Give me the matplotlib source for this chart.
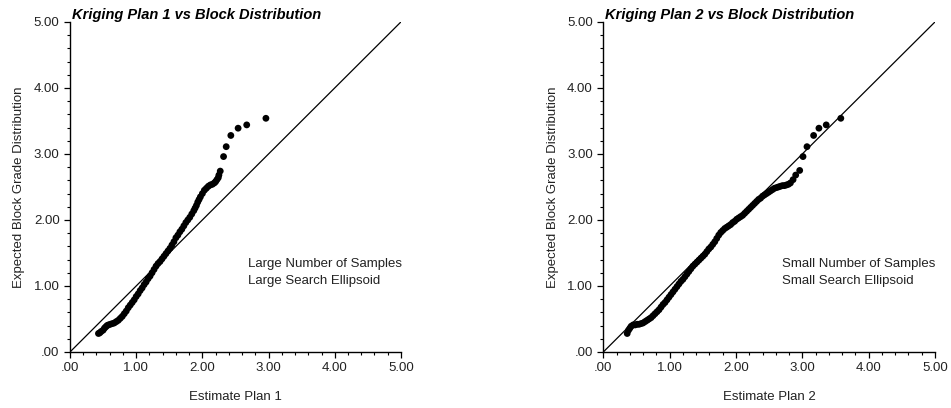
import matplotlib
matplotlib.use("Agg")
import matplotlib.pyplot as plt
from matplotlib.ticker import MultipleLocator, FuncFormatter

plt.rcParams['font.family'] = ['Liberation Sans', 'DejaVu Sans']

# Plan 1: estimate vs expected block grade (q-q points)
plan1_x = [0.43, 0.45, 0.47, 0.50, 0.52, 0.54, 0.56, 0.58, 0.61, 0.64, 0.67, 0.70,
           0.73, 0.76, 0.79, 0.82, 0.85, 0.88, 0.91, 0.94, 0.97, 1.00, 1.03, 1.06,
           1.09, 1.12, 1.15, 1.18, 1.21, 1.24, 1.27, 1.30, 1.33, 1.36, 1.39, 1.42,
           1.45, 1.48, 1.51, 1.54, 1.57, 1.60, 1.63, 1.66, 1.69, 1.72, 1.75, 1.78,
           1.81, 1.84, 1.87, 1.89, 1.91, 1.93, 1.95, 1.97, 2.00, 2.03, 2.06, 2.09,
           2.12, 2.15, 2.18, 2.20, 2.22, 2.24, 2.25, 2.27,
           2.32, 2.36, 2.43, 2.54, 2.67, 2.96]
plan1_y = [0.28, 0.29, 0.31, 0.33, 0.36, 0.38, 0.40, 0.41, 0.42, 0.43, 0.44, 0.46,
           0.48, 0.51, 0.54, 0.58, 0.62, 0.67, 0.71, 0.75, 0.79, 0.84, 0.88, 0.93,
           0.97, 1.02, 1.06, 1.11, 1.15, 1.20, 1.25, 1.30, 1.34, 1.37, 1.41, 1.45,
           1.49, 1.53, 1.57, 1.62, 1.67, 1.73, 1.77, 1.82, 1.86, 1.91, 1.96, 2.00,
           2.04, 2.09, 2.14, 2.18, 2.22, 2.27, 2.31, 2.35, 2.40, 2.45, 2.48, 2.51,
           2.53, 2.54, 2.56, 2.58, 2.61, 2.64, 2.68, 2.74,
           2.96, 3.11, 3.28, 3.39, 3.44, 3.54]

# Plan 2
plan2_x = [0.36, 0.38, 0.40, 0.42, 0.45, 0.48, 0.51, 0.54, 0.57, 0.60, 0.63, 0.66,
           0.69, 0.72, 0.75, 0.78, 0.81, 0.84, 0.87, 0.90, 0.93, 0.96, 0.99, 1.02,
           1.05, 1.08, 1.11, 1.14, 1.17, 1.20, 1.23, 1.26, 1.29, 1.32, 1.35, 1.38,
           1.41, 1.44, 1.47, 1.50, 1.53, 1.56, 1.59, 1.62, 1.65, 1.68, 1.71, 1.74,
           1.77, 1.80, 1.83, 1.86, 1.89, 1.92, 1.95, 1.98, 2.01, 2.04, 2.07, 2.10,
           2.13, 2.16, 2.19, 2.22, 2.25, 2.28, 2.31, 2.34, 2.37, 2.40, 2.43, 2.46,
           2.49, 2.52, 2.55, 2.58, 2.61, 2.64, 2.67, 2.70, 2.73, 2.76, 2.79, 2.82,
           2.86, 2.90, 2.96, 3.01, 3.07, 3.17, 3.25, 3.36, 3.58]
plan2_y = [0.28, 0.33, 0.36, 0.39, 0.41, 0.41, 0.42, 0.42, 0.43, 0.44, 0.46, 0.48,
           0.50, 0.52, 0.55, 0.58, 0.61, 0.64, 0.68, 0.72, 0.75, 0.79, 0.83, 0.87,
           0.91, 0.95, 0.99, 1.03, 1.07, 1.10, 1.14, 1.18, 1.22, 1.26, 1.30, 1.33,
           1.36, 1.39, 1.42, 1.45, 1.48, 1.52, 1.56, 1.59, 1.63, 1.67, 1.72, 1.77,
           1.81, 1.84, 1.87, 1.89, 1.91, 1.93, 1.96, 1.98, 2.01, 2.03, 2.05, 2.07,
           2.10, 2.13, 2.16, 2.19, 2.22, 2.25, 2.28, 2.31, 2.33, 2.36, 2.38, 2.40,
           2.42, 2.44, 2.46, 2.48, 2.49, 2.50, 2.51, 2.52, 2.52, 2.53, 2.54, 2.56,
           2.61, 2.68, 2.75, 2.96, 3.11, 3.28, 3.39, 3.44, 3.54]

titles = ["Kriging Plan 1 vs Block Distribution", "Kriging Plan 2 vs Block Distribution"]
xlabels = ["Estimate Plan 1", "Estimate Plan 2"]
ylabel = "Expected Block Grade Distribution"
notes = [["Large Number of Samples", "Large Search Ellipsoid"],
         ["Small Number of Samples", "Small Search Ellipsoid"]]


def fmt(v, pos):
    s = f"{v:.2f}"
    return s[1:] if s.startswith("0") else s


fig = plt.figure(figsize=(9.51, 4.08), dpi=100)
ax1 = fig.add_axes([0.0736, 0.1373, 0.348, 0.809])
ax2 = fig.add_axes([0.6344, 0.1373, 0.3488, 0.809])

for ax, xs, ys, title, xl, note in zip([ax1, ax2], [plan1_x, plan2_x], [plan1_y, plan2_y],
                                       titles, xlabels, notes):
    ax.plot([0, 5], [0, 5], color='black', lw=0.9, zorder=2)
    ax.scatter(xs, ys, s=24, color='black', edgecolors='none', zorder=3, clip_on=False)

    ax.set_xlim(0, 5)
    ax.set_ylim(0, 5)
    for side in ['top', 'right']:
        ax.spines[side].set_visible(False)
    for side in ['left', 'bottom']:
        ax.spines[side].set_linewidth(1.0)

    ax.xaxis.set_major_locator(MultipleLocator(1))
    ax.yaxis.set_major_locator(MultipleLocator(1))
    ax.xaxis.set_minor_locator(MultipleLocator(0.2))
    ax.yaxis.set_minor_locator(MultipleLocator(0.2))
    ax.xaxis.set_major_formatter(FuncFormatter(fmt))
    ax.yaxis.set_major_formatter(FuncFormatter(fmt))
    ax.tick_params(which='major', length=4.5, width=0.9, labelsize=9.5,
                   labelcolor='#222222', pad=3)
    ax.tick_params(which='minor', length=2.5, width=0.8)

    ax.set_xlabel(xl, fontsize=9.5, color='#222222', labelpad=12)
    ax.set_ylabel(ylabel, fontsize=9.5, color='#222222', labelpad=6)

    ax.text(0.005, 1.02, title, transform=ax.transAxes, fontsize=10.5,
            fontweight='bold', fontstyle='italic', ha='left', va='center')

    ax.text(2.69, 1.34, note[0], fontsize=9.5, color='#222222', va='center')
    ax.text(2.69, 1.07, note[1], fontsize=9.5, color='#222222', va='center')

fig.savefig("out.png", dpi=100)
